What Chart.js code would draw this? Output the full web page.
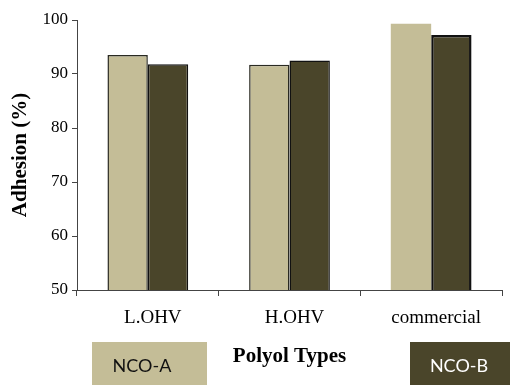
<!DOCTYPE html>
<html>
<head>
<meta charset="utf-8">
<script src="https://cdn.jsdelivr.net/npm/chart.js@4"></script>
<style>
  body { margin: 0; background: #fff; }
</style>
</head>
<body>
<canvas id="chart" width="510" height="385"></canvas>
<script>
const categories = ["L.OHV", "H.OHV", "commercial"];
const seriesNames = ["NCO-A", "NCO-B"];
const ncoA = [93.5, 91.7, 99.3];
const ncoB = [91.8, 92.5, 97.2];
const yTicks = [50, 60, 70, 80, 90, 100];

const colors = {
  a: "#C4BD97",
  b: "#4A452A",
};

const serif = "'Liberation Serif', 'Times New Roman', serif";

// legend drawn as two colour boxes at the bottom, like the original
const boxLegend = {
  id: "boxLegend",
  afterDraw(chart) {
    const ctx = chart.ctx;
    const boxes = [
      { x: 92, w: 115, tx: 142, color: "#111" },
      { x: 410, w: 100, tx: 459, color: "#fff" },
    ];
    ctx.save();
    chart.data.datasets.forEach((ds, i) => {
      const b = boxes[i];
      ctx.fillStyle = ds.legendColor;
      ctx.fillRect(b.x, 342, b.w, 43);
      ctx.fillStyle = b.color;
      ctx.font = "18px Lato, sans-serif";
      ctx.textAlign = "center";
      ctx.textBaseline = "middle";
      ctx.fillText(ds.label, b.tx, 366);
    });
    ctx.restore();
  },
};

new Chart(document.getElementById("chart"), {
  type: "bar",
  data: {
    labels: categories,
    datasets: [
      {
        label: seriesNames[0],
        data: ncoA,
        backgroundColor: colors.a,
        legendColor: colors.a,
        borderColor: ["#2a2a22", "#2a2a22", colors.a],
        borderWidth: [1.5, 1.5, 0],
        borderSkipped: false,
      },
      {
        label: seriesNames[1],
        data: ncoB,
        backgroundColor: colors.b,
        legendColor: colors.b,
        borderColor: "#111",
        borderWidth: [1.5, 1.5, 2.5],
        borderSkipped: false,
      },
    ],
  },
  options: {
    responsive: false,
    animation: false,
    layout: { padding: { top: 20, right: 8, left: 0, bottom: 0 } },
    plugins: {
      legend: { display: false },
      tooltip: { enabled: false },
    },
    datasets: {
      bar: { categoryPercentage: 0.57, barPercentage: 1.0 },
    },
    scales: {
      x: {
        grid: {
          offset: true,
          drawOnChartArea: false,
          tickLength: 6,
          color: "#444",
        },
        border: { display: true, color: "#444", width: 1 },
        ticks: {
          color: "#000",
          font: { family: serif, size: 19 },
          padding: 11,
          labelOffset: 5,
        },
        title: {
          display: true,
          text: "Polyol Types",
          color: "#000",
          font: { family: serif, size: 21, weight: "bold" },
          padding: { top: 0, bottom: 16 },
        },
        afterFit(scale) {
          scale.height = 95;
        },
      },
      y: {
        min: 50,
        max: 100,
        afterBuildTicks(scale) {
          scale.ticks = yTicks.map((v) => ({ value: v }));
        },
        grid: {
          drawOnChartArea: false,
          tickLength: 5,
          color: "#444",
        },
        border: { display: true, color: "#444", width: 1 },
        ticks: {
          color: "#000",
          font: { family: serif, size: 17 },
          padding: 4,
        },
        title: {
          display: true,
          text: "Adhesion (%)",
          color: "#000",
          font: { family: serif, size: 21, weight: "bold" },
          padding: { top: 8, bottom: 0 },
        },
        afterFit(scale) {
          scale.width = 77;
        },
      },
    },
  },
  plugins: [boxLegend],
});
</script>
</body>
</html>
